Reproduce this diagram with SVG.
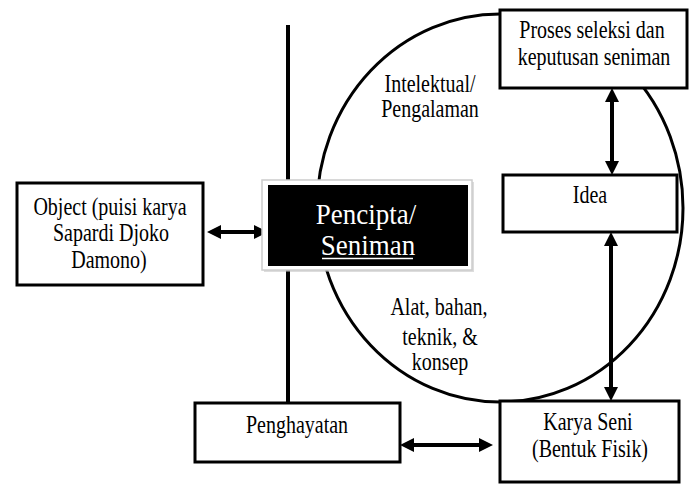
<svg xmlns="http://www.w3.org/2000/svg" width="691" height="484" viewBox="0 0 691 484">
<style>
.box{fill:#fff;stroke:#000;stroke-width:3}
.t{font-size:20px;text-anchor:middle;fill:#000}
.tw{font-size:27px;text-anchor:middle;fill:#fff}
.c{stroke:#000;stroke-width:4;fill:none}
</style>
<defs>
<marker id="ah" viewBox="0 0 14 14" markerWidth="14" markerHeight="14" refX="8" refY="7" orient="auto-start-reverse" markerUnits="userSpaceOnUse">
<path d="M0,0 L14,7 L0,14 z" fill="#000"/>
</marker>
</defs>
<rect width="691" height="484" fill="#fff"/>
<g id="cycle">
<ellipse cx="500" cy="208" rx="183" ry="194" fill="none" stroke="#000" stroke-width="3"/>
</g>
<g id="connectors">
<line class="c" x1="288" y1="25" x2="288" y2="403"/>
<line class="c" x1="213" y1="232" x2="262" y2="232" marker-start="url(#ah)" marker-end="url(#ah)"/>
<line class="c" x1="612" y1="94" x2="612" y2="169" marker-start="url(#ah)" marker-end="url(#ah)"/>
<line class="c" x1="611" y1="238" x2="611" y2="395" marker-start="url(#ah)" marker-end="url(#ah)"/>
<line class="c" x1="406" y1="445" x2="487" y2="445" marker-start="url(#ah)" marker-end="url(#ah)"/>
</g>
<g font-family="'Liberation Serif', 'Times New Roman', serif">
<g id="proses">
<rect class="box" x="500" y="10" width="187" height="78"/>
<text class="t" transform="translate(592 38) scale(1 1.25)">Proses seleksi dan</text>
<text class="t" transform="translate(594 65) scale(1 1.25)">keputusan seniman</text>
</g>
<g id="idea">
<rect class="box" x="503" y="175" width="174" height="57"/>
<text class="t" transform="translate(590 203) scale(1 1.25)">Idea</text>
</g>
<g id="object">
<rect class="box" x="17" y="183" width="186" height="102"/>
<text class="t" transform="translate(110 215) scale(1 1.25)">Object (puisi karya</text>
<text class="t" transform="translate(111 241) scale(1 1.25)">Sapardi Djoko</text>
<text class="t" transform="translate(109 268) scale(1 1.25)">Damono)</text>
</g>
<g id="pencipta">
<rect x="264" y="182" width="210" height="90" fill="#bbb" opacity="0.5"/>
<rect x="262" y="180" width="210" height="90" fill="#fff" stroke="#ccc" stroke-width="1.5"/>
<rect x="268" y="185" width="200" height="81" fill="#000"/>
<text class="tw" transform="translate(366 224) scale(1 1.12)">Pencipta/</text>
<text class="tw" transform="translate(368 255) scale(1 1.12)">Seniman</text>
<line x1="322" y1="258.5" x2="413" y2="258.5" stroke="#fff" stroke-width="1.5"/>
</g>
<g id="penghayatan">
<rect class="box" x="195" y="403" width="205" height="59"/>
<text class="t" transform="translate(297 433) scale(1 1.25)">Penghayatan</text>
</g>
<g id="karya">
<rect class="box" x="500" y="401" width="179" height="81"/>
<text class="t" transform="translate(588 430) scale(1 1.25)">Karya Seni</text>
<text class="t" transform="translate(590 457) scale(1 1.25)">(Bentuk Fisik)</text>
</g>
<g id="labels">
<text class="t" transform="translate(430 92) scale(1 1.25)">Intelektual/</text>
<text class="t" transform="translate(430 117) scale(1 1.25)">Pengalaman</text>
<text class="t" transform="translate(439 315) scale(1 1.25)">Alat, bahan,</text>
<text class="t" transform="translate(440 345) scale(1 1.25)">teknik, &amp;</text>
<text class="t" transform="translate(440 370) scale(1 1.25)">konsep</text>
</g>
</g>
</svg>
